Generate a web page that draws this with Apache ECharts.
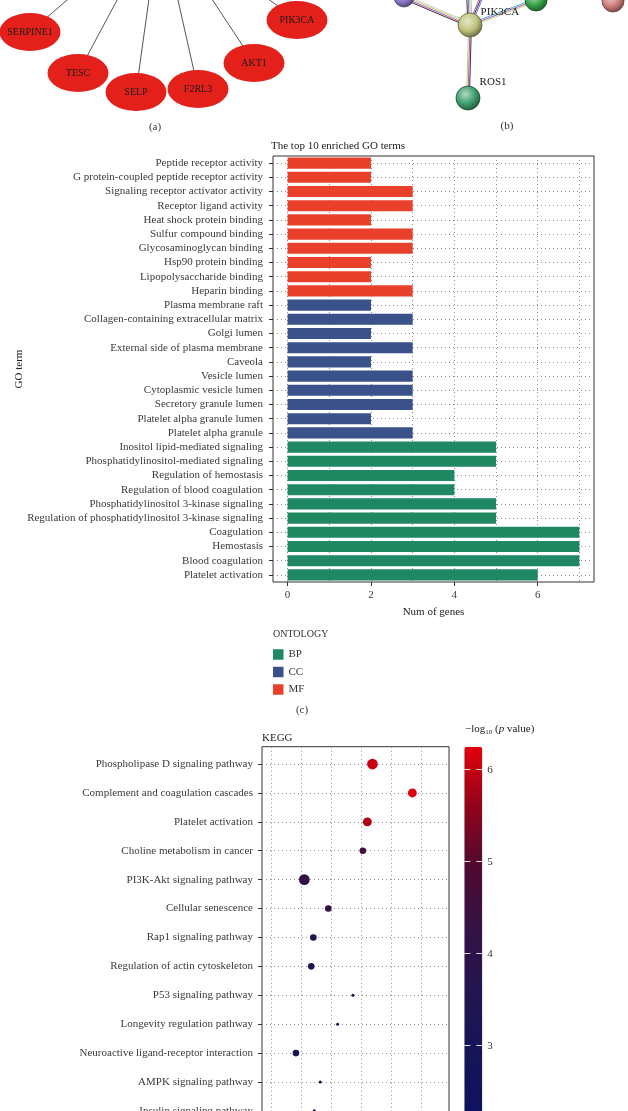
<!DOCTYPE html>
<html>
<head>
<meta charset="utf-8">
<script src="https://cdn.jsdelivr.net/npm/echarts@6/dist/echarts.min.js"></script>
<style>
html, body { margin: 0; padding: 0; background: #fff; }
#main { width: 628px; height: 1111px; }
</style>
</head>
<body>
<div id="main"></div>
<script>
// ---- (a) star network, only the lower arc of the circle is in view
var hubA = [160, -80];
var nodesA = ['SERPINE1', 'TESC', 'SELP', 'F2RL3', 'AKT1', 'PIK3CA'];
var nodesAX = [30, 78, 136, 198, 254, 297];
var nodesAY = [32, 73, 92, 89, 63, 20];

// ---- (b) STRING network (layout units)
var nodesB = ['n1', 'n2', 'n3', 'PIK3CA', 'ROS1', 'u1', 'u2'];
var nodesBX = [404, 536, 613, 470, 468, 466, 505];
var nodesBY = [-3, 0, 1, 25, 98, -70, -60];
var nodesBColor = ['#8b78c8', '#37a347', '#cf7c7c', '#bfc37a', '#3e9e6e', '#999999', '#999999'];
var nodesBSize = [20, 22, 22, 24, 24, 22, 22];
var nodesBLabel = ['', '', '', 'PIK3CA', 'ROS1', '', ''];
var edgesB = [[3, 0], [3, 5], [3, 6], [3, 1], [3, 4]];
var edgesBEvidence = [
  ['#333333', '#c44fc4', '#b6d36a', '#cccccc'],
  ['#333333', '#c44fc4', '#7fd0e0', '#b6d36a'],
  ['#c44fc4', '#333333', '#5a7ad8'],
  ['#3fb8d8', '#c44fc4', '#b6d36a'],
  ['#333333', '#c44fc4', '#b6d36a']
];

// ---- (c) GO terms, top to bottom
var goTerms = [
  'Peptide receptor activity', 'G protein-coupled peptide receptor activity',
  'Signaling receptor activator activity', 'Receptor ligand activity',
  'Heat shock protein binding', 'Sulfur compound binding', 'Glycosaminoglycan binding',
  'Hsp90 protein binding', 'Lipopolysaccharide binding', 'Heparin binding',
  'Plasma membrane raft', 'Collagen-containing extracellular matrix', 'Golgi lumen',
  'External side of plasma membrane', 'Caveola', 'Vesicle lumen',
  'Cytoplasmic vesicle lumen', 'Secretory granule lumen', 'Platelet alpha granule lumen',
  'Platelet alpha granule', 'Inositol lipid-mediated signaling',
  'Phosphatidylinositol-mediated signaling', 'Regulation of hemostasis',
  'Regulation of blood coagulation', 'Phosphatidylinositol 3-kinase signaling',
  'Regulation of phosphatidylinositol 3-kinase signaling', 'Coagulation', 'Hemostasis',
  'Blood coagulation', 'Platelet activation'
];
var goCounts = [2, 2, 3, 3, 2, 3, 3, 2, 2, 3,
                2, 3, 2, 3, 2, 3, 3, 3, 2, 3,
                5, 5, 4, 4, 5, 5, 7, 7, 7, 6];
var goOnto = ['MF', 'MF', 'MF', 'MF', 'MF', 'MF', 'MF', 'MF', 'MF', 'MF',
              'CC', 'CC', 'CC', 'CC', 'CC', 'CC', 'CC', 'CC', 'CC', 'CC',
              'BP', 'BP', 'BP', 'BP', 'BP', 'BP', 'BP', 'BP', 'BP', 'BP'];
var goOntologies = ['BP', 'CC', 'MF'];
var goTicks = [0, 2, 4, 6];
var goGridX = [0, 1, 2, 3, 4, 5, 6, 7];

// ---- (d) KEGG dot plot, top to bottom
var keggTerms = [
  'Phospholipase D signaling pathway', 'Complement and coagulation cascades',
  'Platelet activation', 'Choline metabolism in cancer', 'PI3K-Akt signaling pathway',
  'Cellular senescence', 'Rap1 signaling pathway', 'Regulation of actin cytoskeleton',
  'P53 signaling pathway', 'Longevity regulation pathway',
  'Neuroactive ligand-receptor interaction', 'AMPK signaling pathway',
  'Insulin signaling pathway'
];
var keggX = [6.38, 7.71, 6.21, 6.06, 4.11, 4.91, 4.41, 4.34, 5.73, 5.22, 3.83, 4.64, 4.44];
var keggCount = [5, 4, 4, 3, 5, 3, 3, 3, 2, 2, 3, 2, 2];
var keggLogP = [6.05, 6.2, 5.85, 4.6, 4.15, 4.15, 3.7, 3.6, 3.35, 3.25, 2.95, 2.8, 2.65];
var keggGridX = [3, 4, 5, 6, 7, 8];
var cbTicks = [3, 4, 5, 6];
var cbMin = 2.2, cbMax = 6.25;

var serif = '"Liberation Serif", "DejaVu Serif", serif';
var ontoColors = { BP: '#1f8762', CC: '#3b5189', MF: '#e8402a' };

function mix(hex, t, target) {
  var n = parseInt(hex.slice(1), 16);
  var r = n >> 16, g = (n >> 8) & 255, b = n & 255;
  var f = function (c) { return Math.round(c + (target - c) * t); };
  return 'rgb(' + f(r) + ',' + f(g) + ',' + f(b) + ')';
}

// STRING edges: one thin line per evidence channel, side by side
var edgeLinesB = [];
edgesB.forEach(function (e, k) {
  var x1 = nodesBX[e[0]], y1 = nodesBY[e[0]], x2 = nodesBX[e[1]], y2 = nodesBY[e[1]];
  var dx = x2 - x1, dy = y2 - y1, len = Math.sqrt(dx * dx + dy * dy);
  var px = -dy / len, py = dx / len;
  var cols = edgesBEvidence[k];
  cols.forEach(function (c, j) {
    var o = (j - (cols.length - 1) / 2) * 1.4;
    edgeLinesB.push({
      coords: [[x1 + px * o, y1 + py * o], [x2 + px * o, y2 + py * o]],
      lineStyle: { color: c }
    });
  });
});

function goSeries(key, withGrid) {
  var s = {
    name: key, type: 'bar', stack: 'go', xAxisIndex: 1, yAxisIndex: 1,
    barCategoryGap: '22%', z: 3,
    itemStyle: { color: ontoColors[key] },
    data: goTerms.map(function (t, i) { return goOnto[i] === key ? goCounts[i] : '-'; })
  };
  if (withGrid) {
    s.markLine = {
      silent: true, symbol: ['none', 'none'], z: 1, animation: false,
      label: { show: false },
      lineStyle: { color: '#8c8c8c', type: [1, 3], width: 1 },
      data: goTerms.map(function (t) { return { yAxis: t }; })
        .concat(goGridX.map(function (v) { return { xAxis: v }; }))
    };
  }
  return s;
}

var chart = echarts.init(document.getElementById('main'));

var option = {
  animation: false,
  textStyle: { fontFamily: serif },
  grid: [
    { left: 0, top: -120, width: 628, height: 260, outerBoundsMode: 'none', containLabel: false },
    { left: 273, top: 156, width: 321, height: 426, show: true, borderColor: '#333', borderWidth: 1, outerBoundsMode: 'none', containLabel: false },
    { left: 262, top: 746.7, width: 187, height: 381.5, show: true, borderColor: '#333', borderWidth: 1, outerBoundsMode: 'none', containLabel: false },
    { left: 464.3, top: 746.7, width: 18, height: 372.6, outerBoundsMode: 'none', containLabel: false }
  ],
  xAxis: [
    { gridIndex: 0, type: 'value', min: 0, max: 628, show: false },
    {
      gridIndex: 1, type: 'value', min: -0.35, max: 7.35,
      axisLine: { show: false, onZero: false }, splitLine: { show: false },
      axisTick: { show: true, length: 4, customValues: goTicks, lineStyle: { color: '#333' } },
      axisLabel: { customValues: goTicks, margin: 8, fontSize: 11, color: '#3a3a3a', fontFamily: serif },
      name: 'Num of genes', nameLocation: 'middle', nameGap: 25, nameMoveOverlap: false,
      nameTextStyle: { fontSize: 11, color: '#222', fontFamily: serif }
    },
    {
      gridIndex: 2, type: 'value', min: 2.7, max: 8.93,
      axisLine: { show: false, onZero: false }, splitLine: { show: false },
      axisTick: { show: true, length: 4, customValues: [4, 6, 8] },
      axisLabel: { customValues: [4, 6, 8], fontSize: 11 }
    },
    { gridIndex: 3, type: 'value', show: false }
  ],
  yAxis: [
    { gridIndex: 0, type: 'value', min: -120, max: 140, inverse: true, show: false },
    {
      gridIndex: 1, type: 'category', data: goTerms, inverse: true,
      axisLine: { show: false, onZero: false }, splitLine: { show: false },
      axisTick: { show: true, length: 4, alignWithLabel: true, lineStyle: { color: '#333' } },
      axisLabel: { margin: 10, fontSize: 11, color: '#3a3a3a', fontFamily: serif, interval: 0 },
      name: 'GO term', nameLocation: 'middle', nameGap: 248, nameRotate: 90, nameMoveOverlap: false,
      nameTextStyle: { fontSize: 11, color: '#222', fontFamily: serif }
    },
    {
      gridIndex: 2, type: 'value', min: -0.6, max: keggTerms.length - 0.4, inverse: true,
      axisLine: { show: false, onZero: false }, splitLine: { show: false },
      axisTick: { show: true, length: 4, customValues: keggTerms.map(function (t, i) { return i; }), lineStyle: { color: '#333' } },
      axisLabel: {
        customValues: keggTerms.map(function (t, i) { return i; }),
        formatter: function (v) { return keggTerms[Math.round(v)]; },
        margin: 9, fontSize: 11, color: '#3a3a3a', fontFamily: serif
      }
    },
    {
      gridIndex: 3, type: 'value', min: cbMin, max: cbMax, position: 'right', z: 10,
      axisLine: { show: false, onZero: false }, splitLine: { show: false },
      axisTick: { show: true, inside: true, length: 6, customValues: cbTicks, lineStyle: { color: 'rgba(255,255,255,0.85)' } },
      axisLabel: { customValues: cbTicks, margin: 5, fontSize: 11, color: '#333', fontFamily: serif }
    },
    {
      gridIndex: 3, type: 'value', min: cbMin, max: cbMax, position: 'left', z: 10,
      axisLine: { show: false, onZero: false }, splitLine: { show: false },
      axisTick: { show: true, inside: true, length: 6, customValues: cbTicks, lineStyle: { color: 'rgba(255,255,255,0.85)' } },
      axisLabel: { show: false }
    }
  ],
  legend: {
    orient: 'vertical', left: 273, top: 649, padding: 0,
    itemWidth: 10.5, itemHeight: 10.5, itemGap: 6.5, icon: 'rect',
    selectedMode: false, data: goOntologies,
    textStyle: { fontSize: 11, color: '#333', fontFamily: serif }
  },
  visualMap: {
    type: 'continuous', seriesIndex: 7, dimension: 3,
    min: cbMin, max: cbMax, calculable: false, hoverLink: false,
    orient: 'vertical', left: 464.3, top: 746.7, padding: 0,
    itemWidth: 18, itemHeight: 372.6,
    inRange: { color: ['#0e1160', '#151458', '#22154f', '#331246', '#4c0a32', '#8e041c', '#e2000c'] }
  },
  graphic: [
    { type: 'text', x: 155, y: 127, style: { text: '(a)', fontSize: 11, fontFamily: serif, fill: '#333', align: 'center', verticalAlign: 'middle' } },
    { type: 'text', x: 507, y: 126, style: { text: '(b)', fontSize: 11, fontFamily: serif, fill: '#333', align: 'center', verticalAlign: 'middle' } },
    { type: 'text', x: 271, y: 146, style: { text: 'The top 10 enriched GO terms', fontSize: 11, fontFamily: serif, fill: '#222', align: 'left', verticalAlign: 'middle' } },
    { type: 'text', x: 273, y: 634, style: { text: 'ONTOLOGY', fontSize: 10, fontFamily: serif, fill: '#333', align: 'left', verticalAlign: 'middle' } },
    { type: 'text', x: 302, y: 710, style: { text: '(c)', fontSize: 11, fontFamily: serif, fill: '#333', align: 'center', verticalAlign: 'middle' } },
    { type: 'text', x: 262, y: 738, style: { text: 'KEGG', fontSize: 11, fontFamily: serif, fill: '#222', align: 'left', verticalAlign: 'middle' } },
    {
      type: 'text', x: 465, y: 729,
      style: {
        text: '\u2212log{s|10} ({i|p} value)', fontSize: 11, fontFamily: serif, fill: '#222',
        align: 'left', verticalAlign: 'middle', lineHeight: 14,
        rich: {
          s: { fontSize: 7, lineHeight: 7, verticalAlign: 'bottom', fontFamily: serif, fill: '#222' },
          i: { fontStyle: 'italic', fontSize: 11, lineHeight: 14, fontFamily: serif, fill: '#222' }
        }
      }
    }
  ],
  series: [
    {
      type: 'lines', coordinateSystem: 'cartesian2d', xAxisIndex: 0, yAxisIndex: 0,
      silent: true, z: 1,
      lineStyle: { color: '#555', width: 1, opacity: 1 },
      data: nodesA.map(function (n, i) { return { coords: [hubA, [nodesAX[i], nodesAY[i]]] }; })
    },
    {
      type: 'scatter', xAxisIndex: 0, yAxisIndex: 0, silent: true, z: 3,
      symbol: 'circle', symbolSize: [61, 38],
      itemStyle: { color: '#e4201a', opacity: 1 },
      label: { show: true, position: 'inside', formatter: '{b}', fontSize: 10, color: '#1a1a1a', fontFamily: serif },
      data: nodesA.map(function (n, i) { return { name: n, value: [nodesAX[i], nodesAY[i]] }; })
    },
    {
      type: 'lines', coordinateSystem: 'cartesian2d', xAxisIndex: 0, yAxisIndex: 0,
      silent: true, z: 1,
      lineStyle: { width: 1, opacity: 1 },
      data: edgeLinesB
    },
    {
      type: 'scatter', xAxisIndex: 0, yAxisIndex: 0, silent: true, z: 3,
      data: nodesB.map(function (n, i) {
        var c = nodesBColor[i];
        return {
          name: nodesBLabel[i], value: [nodesBX[i], nodesBY[i]],
          symbolSize: nodesBSize[i],
          itemStyle: {
            opacity: 1, borderColor: mix(c, 0.5, 0), borderWidth: 0.8,
            color: new echarts.graphic.RadialGradient(0.4, 0.35, 0.7, [
              { offset: 0, color: mix(c, 0.6, 255) },
              { offset: 0.55, color: c },
              { offset: 1, color: mix(c, 0.5, 0) }
            ])
          },
          label: {
            show: nodesBLabel[i] !== '', formatter: '{b}', fontSize: 11, color: '#222', fontFamily: serif,
            position: i === 3 ? [23, 0] : [24, -3], align: 'left', verticalAlign: 'middle'
          }
        };
      })
    },
    goSeries('BP', true),
    goSeries('CC', false),
    goSeries('MF', false),
    {
      type: 'scatter', xAxisIndex: 2, yAxisIndex: 2, z: 3, silent: true,
      symbolSize: function (v) { return Math.sqrt(9 + (v[2] - 2) * 35.2); },
      itemStyle: { opacity: 1 },
      data: keggTerms.map(function (t, i) { return [keggX[i], i, keggCount[i], keggLogP[i]]; }),
      markLine: {
        silent: true, symbol: ['none', 'none'], z: 1, animation: false,
        label: { show: false },
        lineStyle: { color: '#8c8c8c', type: [1, 3], width: 1 },
        data: keggTerms.map(function (t, i) { return { yAxis: i }; })
          .concat(keggGridX.map(function (v) { return { xAxis: v }; }))
      }
    }
  ]
};

chart.setOption(option);
</script>
</body>
</html>
